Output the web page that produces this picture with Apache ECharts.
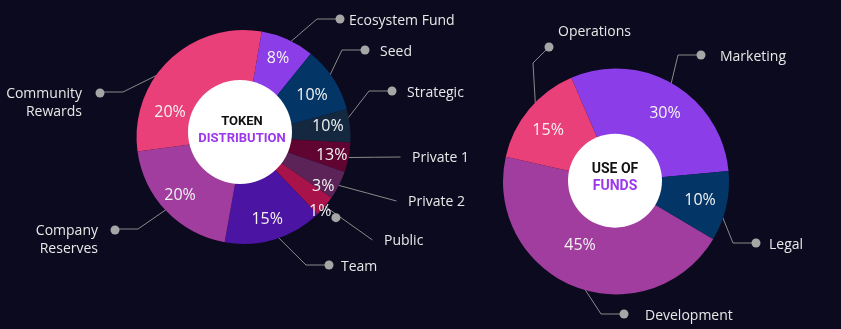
<!DOCTYPE html>
<html><head><meta charset="utf-8">
<script src="https://cdn.jsdelivr.net/npm/echarts@6/dist/echarts.min.js"></script>
<style>html,body{margin:0;padding:0;background:#0b0a1e;} #c{width:841px;height:329px;}</style>
</head><body><div id="c"></div>
<script>
// ---- data ----
const tokenCategories = ['Ecosystem Fund','Seed','Strategic','Private 1','Private 2','Public','Team','Company Reserves','Community Rewards'];
const tokenShares = [8.1, 10.0, 5.0, 4.5, 4.3, 3.2, 15.0, 20.0, 29.9];   // slice sizes as drawn
const tokenPctLabels = ['8%','10%','10%','13%','3%','1%','15%','20%','20%'];
const fundCategories = ['Marketing','Legal','Development','Operations'];
const fundShares = [30, 10, 45, 15];
const fundPctLabels = ['30%','10%','45%','15%'];
const tokenTitle = ['TOKEN','DISTRIBUTION'];
const fundTitle = ['USE OF','FUNDS'];

// ---- styles / layout ----
const tokenColors = ['#8b3de8','#033566','#14293f','#600532','#5c2358','#a8134a','#4b14a3','#a03d9e','#e9407a'];
const fundColors = ['#8b3de8','#033566','#a03d9e','#e9407a'];
const LEFT = {center:[243.5,137], radius:[45,107], hole:[240,132], holeR:52, start:80.2, titleSize:13, titlePad:[0,0,4,4]};
const RIGHT = {center:[616,181.5], radius:[40,113], hole:[615,180.7], holeR:47, start:113.3, titleSize:14, titlePad:[0,0,5,0]};
const tokenPctPos = [[23.6,86],[59,80],[83,85],[101.5,90],[122,94],[132.4,110],[164,86],[227.6,86],[288.8,77.6]];
const tokenPctDot = [false,false,false,false,false,true,false,false,false];
const fundPctPos = [[35.6,84],[102.4,86],[209.5,73],[307,85]];
const fundPctDot = [false,false,false,false];
const tokenNamePos = [
  {kind:'R', x:340, y:19, gap:4.5},
  {kind:'R', x:365, y:50, gap:10.5},
  {kind:'R', x:392, y:91, gap:10.5},
  {kind:'T', x:412, y:158},
  {kind:'T', x:408, y:202},
  {kind:'T', x:384, y:241},
  {kind:'R', x:329, y:265, gap:7.5},
  {kind:'L', x:115, y:229, gap:12.5},
  {kind:'L', x:100, y:92, gap:13.5}
];
const fundNamePos = [
  {kind:'R', x:701, y:55, gap:14.5},
  {kind:'R', x:756, y:243, gap:8.5},
  {kind:'R', x:624, y:314, gap:16.5},
  {kind:'U', x:549, y:47, gap:13.5}
];

const dotStyle = {width:9, height:9, borderRadius:4.5, backgroundColor:'#a6a6a6'};
const nameFont = {color:'#e8e8e8', fontSize:14, fontFamily:'Open Sans', lineHeight:20};
const lineColor = '#8a8a8a';

function nameLabel(name, p){
  if (p.kind === 'R') {
    return {formatter:'{d|}{t|' + name + '}', rich:{d:dotStyle, t:Object.assign({}, nameFont, {lineHeight:15, padding:[5,0,0,p.gap]})}};
  }
  if (p.kind === 'L') {
    const parts = name.split(' ');
    return {formatter:'{t|' + parts[0] + '}{d|}\n{t|' + parts[1] + '}{s|}',
      rich:{d:Object.assign({}, dotStyle, {align:'right'}), s:{width:9, height:9, align:'right'},
            t:Object.assign({}, nameFont, {lineHeight:18, padding:[2,p.gap,0,0], align:'right'})}};
  }
  if (p.kind === 'U') {
    return {formatter:'{s|}{t|' + name + '}\n{d|}',
      rich:{d:Object.assign({}, dotStyle, {lineHeight:17}), s:{width:p.gap, height:9, lineHeight:17},
            t:Object.assign({}, nameFont, {lineHeight:15, padding:[4,0,0,0]})}};
  }
  return {formatter:'{t|' + name + '}', rich:{t:nameFont}};
}

function nameLayout(pos, center){
  return function(params){
    const p = pos[params.dataIndex];
    const lp = params.labelLinePoints;
    const k = p.kind === 'T' ? 1.0 : 0.92;
    const p0 = lp && lp[0] ? lp[0] : [p.x, p.y];
    const s = [center[0] + (p0[0]-center[0])*k, center[1] + (p0[1]-center[1])*k];
    if (p.kind === 'R') return {x:p.x-4.5, y:p.y, align:'left', verticalAlign:'middle', labelLinePoints:[s,[p.x-23,p.y],[p.x,p.y]]};
    if (p.kind === 'L') return {x:p.x+4.5, y:p.y+10, align:'right', verticalAlign:'middle', labelLinePoints:[s,[p.x+23,p.y],[p.x,p.y]]};
    if (p.kind === 'U') return {x:p.x-4.5, y:p.y-8.5, align:'left', verticalAlign:'middle', labelLinePoints:[s,[p.x-16,p.y+16],[p.x,p.y]]};
    const e = [p.x-11.5, p.y-1];
    return {x:p.x, y:p.y, align:'left', verticalAlign:'middle', labelLinePoints:[s,[(s[0]+e[0])/2,(s[1]+e[1])/2],e]};
  };
}

function pctLayout(pos, center){
  return function(params){
    const q = pos[params.dataIndex];
    const a = q[0]*Math.PI/180;
    return {x:center[0] + q[1]*Math.sin(a), y:center[1] - q[1]*Math.cos(a), align:'center', verticalAlign:'middle'};
  };
}

function buildDonut(cfg, cats, shares, pctLabels, pctPos, pctDot, namePos, colors, title){
  const sectorSeries = {
    type:'pie', center:cfg.center, radius:cfg.radius, startAngle:cfg.start, clockwise:true,
    avoidLabelOverlap:false, silent:true, animation:false, z:2,
    data: cats.map((c,i) => ({name:c, value:shares[i], itemStyle:{color:colors[i]}})),
    label:{show:true, position:'inside',
      formatter: (p) => pctDot[p.dataIndex] ? '{p|' + pctLabels[p.dataIndex] + '}{d|}' : '{p|' + pctLabels[p.dataIndex] + '}',
      rich:{p:{color:'#f3f3f3', fontSize:16, fontFamily:'Open Sans', lineHeight:22},
            d:Object.assign({}, dotStyle, {verticalAlign:'bottom'})}},
    labelLine:{show:false},
    labelLayout: pctLayout(pctPos, cfg.center)
  };
  const nameSeries = {
    type:'pie', center:cfg.center, radius:cfg.radius, startAngle:cfg.start, clockwise:true,
    avoidLabelOverlap:false, silent:true, animation:false, z:2,
    data: cats.map((c,i) => Object.assign({name:c, value:shares[i], itemStyle:{color:'rgba(0,0,0,0)'}},
      {label: nameLabel(c, namePos[i])})),
    label:{show:true, position:'outside'},
    labelLine:{show:true, length:10, length2:10, smooth:false, lineStyle:{color:lineColor, width:1}},
    labelLayout: nameLayout(namePos, cfg.center)
  };
  const holeSeries = {
    type:'pie', center:cfg.hole, radius:[0,cfg.holeR], silent:true, animation:false, z:3,
    data:[{name:'hole', value:1, itemStyle:{color:'#ffffff'}}],
    label:{show:true, position:'center', padding:cfg.titlePad,
      formatter:'{a|' + title[0] + '}\n{b|' + title[1] + '}',
      rich:{a:{color:'#111111', fontSize:cfg.titleSize, fontWeight:'bold', fontFamily:'Roboto', lineHeight:17},
            b:{color:'#9b37ec', fontSize:cfg.titleSize, fontWeight:'bold', fontFamily:'Roboto', lineHeight:17}}},
    labelLine:{show:false}, emphasis:{disabled:true}
  };
  return [sectorSeries, nameSeries, holeSeries];
}

const chart = echarts.init(document.getElementById('c'), null, {renderer:'canvas'});
chart.setOption({
  backgroundColor:'#0b0a1e',
  animation:false,
  textStyle:{fontFamily:'Open Sans'},
  series: [].concat(
    buildDonut(LEFT, tokenCategories, tokenShares, tokenPctLabels, tokenPctPos, tokenPctDot, tokenNamePos, tokenColors, tokenTitle),
    buildDonut(RIGHT, fundCategories, fundShares, fundPctLabels, fundPctPos, fundPctDot, fundNamePos, fundColors, fundTitle)
  )
});
</script></body></html>
